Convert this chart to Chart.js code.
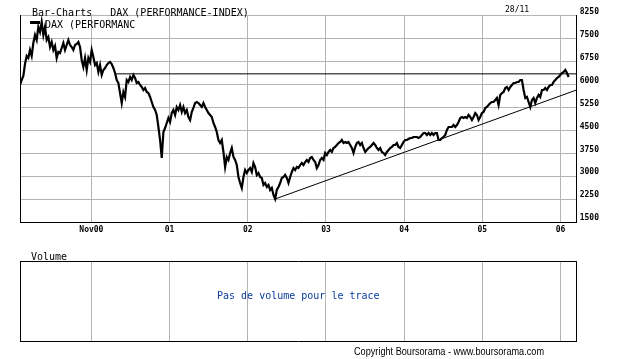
<!DOCTYPE html>
<html>
<head>
<meta charset="utf-8">
<script src="https://cdn.jsdelivr.net/npm/chart.js@4.4.1/dist/chart.umd.min.js"></script>
<style>
  body { margin: 0; background: #fff; }
  #page { position: relative; width: 620px; height: 359px; overflow: hidden; font-family: "DejaVu Sans Mono", "Liberation Mono", monospace; }
  #priceBox { position: absolute; left: 0; top: 0; width: 620px; height: 245px; }
  #volBox { position: absolute; left: 0; top: 250px; width: 620px; height: 100px; }
  .txt { position: absolute; white-space: pre; font-size: 10px; line-height: 10px; color: #000; }
  .small { font-size: 8px; line-height: 8px; }
  #legendMark { position: absolute; left: 30px; top: 21px; width: 10px; height: 3px; background: #000; }
  #copy { font-family: "Liberation Sans Narrow", "Liberation Sans", Arial, sans-serif; font-size: 11px; line-height: 11px; transform-origin: 0 0; }
</style>
</head>
<body>
<div id="page">
  <div id="priceBox"><canvas id="priceChart"></canvas></div>
  <div id="volBox"><canvas id="volChart"></canvas></div>
  <div class="txt" style="left:32px; top:8px;">Bar-Charts   DAX (PERFORMANCE-INDEX)</div>
  <div class="txt small" style="left:505px; top:6px;">28/11</div>
  <div id="legendMark"></div>
  <div class="txt" style="left:45px; top:20px;">DAX (PERFORMANC</div>
  <div class="txt" style="left:31px; top:252px;">Volume</div>
  <div class="txt" style="left:217px; top:291px; color:#0b3c9c;">Pas de volume pour le trace</div>
  <div class="txt" id="copy" style="left:354px; top:346px;">Copyright Boursorama - www.boursorama.com</div>
</div>
<script>
// DAX weekly-ish closes, Dec 1999 -> 28/11/2006
var firstSample = 1999.92;
var sampleDays = 7.79;
var daxCloses = [
  5986, 6149, 6280, 6672, 6933, 6868, 7129, 6933, 7358, 7619, 7456, 7881, 7717, 8044, 7619,
  7881, 7456, 7554, 7227, 7391, 7129, 7260, 6868, 7064, 7031, 7195, 7358, 7129, 7293, 7456,
  7293, 7227, 7129, 7293, 7325, 7391, 7227, 6803, 6574, 6868, 6476, 6868, 6737, 7129, 6901,
  6639, 6705, 6411, 6639, 6313, 6476, 6541, 6639, 6705, 6737, 6672, 6541, 6378, 6149, 6051,
  5725, 5398, 5757, 5594, 6149, 6084, 6247, 6149, 6313, 6215, 6051, 6084, 5986, 5921, 5823,
  5888, 5757, 5725, 5594, 5431, 5267, 5169, 5006, 4614, 4189, 3601, 4450, 4581, 4745, 4908,
  4777, 5071, 5169, 5006, 5267, 5169, 5332, 5104, 5267, 5071, 5169, 4941, 4842, 5104, 5235,
  5398, 5431, 5398, 5332, 5267, 5398, 5267, 5169, 5071, 5006, 4941, 4745, 4614, 4450, 4189,
  4091, 4189, 3797, 3307, 3634, 3536, 3764, 3928, 3634, 3536, 3372, 2980, 2784, 2621, 2980,
  3209, 3111, 3209, 3274, 3144, 3438, 3307, 3046, 3111, 2980, 2948, 2719, 2784, 2654, 2719,
  2556, 2621, 2392, 2262, 2556, 2654, 2784, 2948, 2980, 3046, 2948, 2784, 2980, 3144, 3274,
  3209, 3307, 3274, 3372, 3438, 3372, 3470, 3536, 3470, 3601, 3634, 3536, 3470, 3274, 3372,
  3536, 3601, 3536, 3764, 3699, 3797, 3862, 3797, 3928, 3960, 4026, 4091, 4124, 4189, 4091,
  4124, 4091, 4124, 4026, 3928, 3764, 3960, 4091, 4124, 4026, 4091, 3928, 3797, 3862, 3928,
  3960, 4026, 4091, 4026, 3928, 3862, 3928, 3797, 3764, 3699, 3797, 3862, 3928, 3960, 4026,
  4026, 4091, 3960, 3928, 4026, 4124, 4189, 4189, 4222, 4254, 4254, 4287, 4287, 4287, 4254,
  4287, 4352, 4418, 4418, 4352, 4418, 4352, 4418, 4352, 4418, 4418, 4189, 4189, 4254, 4287,
  4352, 4516, 4614, 4614, 4614, 4679, 4614, 4679, 4777, 4908, 4941, 4908, 4941, 4908, 5006,
  4941, 4842, 4941, 5071, 5006, 4842, 4941, 5071, 5104, 5235, 5267, 5332, 5398, 5431, 5431,
  5496, 5561, 5332, 5659, 5725, 5757, 5888, 5921, 5823, 5921, 5986, 6051, 6051, 6084, 6084,
  6149, 6149, 5823, 5561, 5594, 5431, 5267, 5496, 5561, 5398, 5561, 5659, 5594, 5823, 5823,
  5888, 5823, 5921, 5986, 5986, 6084, 6149, 6215, 6247, 6313, 6378, 6411, 6476, 6378, 6247
];

// drawn lines (resistance and support)
var resistanceDates = [2001.15, 2007.04];
var resistanceValues = [6350, 6350];
var trendDates = [2003.17, 2007.04];
var trendValues = [2250, 5825];

// axes
var xMin = 1999.92;
var xMax = 2007.04;
var gridYears = [2000.833, 2001.833, 2002.833, 2003.833, 2004.833, 2005.833, 2006.833];
var gridLabels = ["Nov00", "01", "02", "03", "04", "05", "06"];
var yMin = 1500;
var yMax = 8250;
var yStep = 750;

var gridColor = "#b4b4b4";
var tickFont = { family: "DejaVu Sans Mono", size: 8, weight: "bold" };

var pricePoints = daxCloses.map((v, i) => ({ x: firstSample + i * sampleDays / 365.25, y: v }));
var resistancePoints = resistanceDates.map((d, i) => ({ x: d, y: resistanceValues[i] }));
var trendPoints = trendDates.map((d, i) => ({ x: d, y: trendValues[i] }));

function yearTicks(axis) {
  axis.ticks = gridYears.map(v => ({ value: v }));
}

new Chart(document.getElementById("priceChart").getContext("2d"), {
  type: "line",
  data: {
    datasets: [
      { label: "DAX (PERFORMANCE-INDEX)", data: pricePoints, borderColor: "#000", borderWidth: 2.2, pointRadius: 0, tension: 0 },
      { label: "resistance", data: resistancePoints, borderColor: "#000", borderWidth: 1, pointRadius: 0 },
      { label: "trend", data: trendPoints, borderColor: "#000", borderWidth: 1, pointRadius: 0 }
    ]
  },
  options: {
    responsive: true,
    maintainAspectRatio: false,
    animation: false,
    devicePixelRatio: 1,
    layout: { padding: { left: 20, top: 15.7, right: 0, bottom: 0 } },
    plugins: { legend: { display: false }, tooltip: { enabled: false } },
    scales: {
      x: {
        type: "linear",
        min: xMin,
        max: xMax,
        afterBuildTicks: yearTicks,
        afterFit: s => { s.height = 22.7; },
        grid: { color: gridColor, lineWidth: 1, drawTicks: false },
        border: { display: true, color: "#000", width: 1 },
        ticks: { font: tickFont, color: "#000", padding: 3, maxRotation: 0, autoSkip: false,
          callback: (v, i) => gridLabels[i] }
      },
      y: {
        position: "right",
        min: yMin,
        max: yMax,
        afterFit: s => { s.width = 43.3; },
        grid: { color: gridColor, lineWidth: 1, drawTicks: false },
        border: { display: true, color: "#000", width: 1 },
        ticks: { stepSize: yStep, font: tickFont, color: "#000", padding: 3, labelOffset: -4,
          callback: v => String(v) }
      },
      yLeft: {
        position: "left",
        min: yMin,
        max: yMax,
        afterFit: s => { s.width = 0; },
        grid: { display: false },
        border: { display: true, color: "#000", width: 1 },
        ticks: { display: false }
      }
    }
  }
});

// empty volume panel
new Chart(document.getElementById("volChart").getContext("2d"), {
  type: "line",
  data: { datasets: [{ label: "Volume", data: [] }] },
  options: {
    responsive: true,
    maintainAspectRatio: false,
    animation: false,
    devicePixelRatio: 1,
    layout: { padding: { left: 20, top: 11.7, right: 0, bottom: 9 } },
    plugins: { legend: { display: false }, tooltip: { enabled: false } },
    scales: {
      x: {
        type: "linear",
        min: xMin,
        max: xMax,
        afterBuildTicks: yearTicks,
        afterFit: s => { s.height = 0; },
        grid: { color: gridColor, lineWidth: 1, drawTicks: false },
        border: { display: true, color: "#000", width: 1 },
        ticks: { display: false }
      },
      xTop: {
        type: "linear",
        position: "top",
        min: xMin,
        max: xMax,
        afterFit: s => { s.height = 0; },
        grid: { display: false },
        border: { display: true, color: "#000", width: 1 },
        ticks: { display: false }
      },
      y: {
        position: "right",
        min: 0,
        max: 1,
        afterFit: s => { s.width = 43.3; },
        grid: { display: false },
        border: { display: true, color: "#000", width: 1 },
        ticks: { display: false }
      },
      yLeft: {
        position: "left",
        min: 0,
        max: 1,
        afterFit: s => { s.width = 0; },
        grid: { display: false },
        border: { display: true, color: "#000", width: 1 },
        ticks: { display: false }
      }
    }
  }
});

// squeeze the copyright line to the width it has in the original
var copy = document.getElementById("copy");
var w = copy.getBoundingClientRect().width;
copy.style.transform = "scaleX(" + (190 / w) + ")";
</script>
</body>
</html>
